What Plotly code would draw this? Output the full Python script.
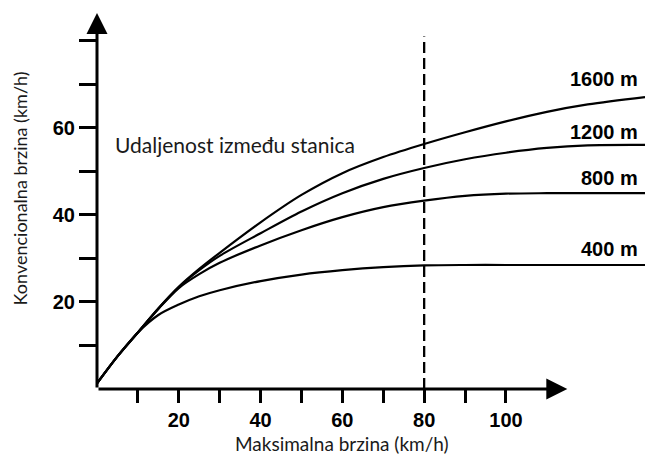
import plotly.graph_objects as go

x_vals = [0, 5, 10, 15, 20, 25, 30, 40, 50, 60, 70, 80, 90, 100, 110, 120, 134]
d400 = [1.3, 7.5, 13.0, 17.0, 19.4, 21.3, 22.7, 24.8, 26.3, 27.3, 28.0, 28.4, 28.5, 28.5, 28.5, 28.5, 28.5]
d800 = [1.3, 7.5, 13.0, 18.4, 23.2, 26.4, 29.0, 33.0, 36.5, 39.5, 41.8, 43.3, 44.4, 44.9, 45.0, 45.0, 45.0]
d1200 = [1.3, 7.5, 13.0, 18.5, 23.4, 27.3, 30.6, 35.8, 40.8, 45.0, 48.3, 50.8, 52.8, 54.3, 55.4, 56.0, 56.1]
d1600 = [1.3, 7.5, 13.0, 18.5, 23.5, 27.6, 31.3, 38.3, 44.6, 49.6, 53.3, 56.3, 59.0, 61.5, 63.7, 65.4, 67.1]

series_names = ["400 m", "800 m", "1200 m", "1600 m"]
series_vals = [d400, d800, d1200, d1600]
label_y = [32.1, 48.4, 59.1, 71.3]

x_tickvals = [10, 20, 30, 40, 50, 60, 70, 80, 90, 100]
x_ticktext = ["", "20", "", "40", "", "60", "", "80", "", "100"]
y_tickvals = [10, 20, 30, 40, 50, 60, 70, 80]
y_ticktext = ["", "20", "", "40", "", "60", "", ""]

marker_x = 80
x_axis_end = 115
y_axis_end = 86.4

fig = go.Figure()
for name, vals in zip(series_names, series_vals):
    fig.add_trace(go.Scatter(x=x_vals, y=vals, mode="lines", name=name,
                             line=dict(color="black", width=2.2, shape="spline", smoothing=0.9),
                             showlegend=False, hoverinfo="skip"))

# dashed vertical line at 80 km/h
fig.add_shape(type="line", x0=marker_x, x1=marker_x, y0=0, y1=81, xref="x", yref="y",
              line=dict(color="black", width=2.3, dash="11px,5px"))

# axes with arrows
fig.add_annotation(x=x_axis_end, y=0, ax=0, ay=0, xref="x", yref="y", axref="x", ayref="y",
                   showarrow=True, arrowhead=2, arrowsize=1.4, arrowwidth=3, arrowcolor="black", text="")
fig.add_annotation(x=0, y=y_axis_end, ax=0, ay=0, xref="x", yref="y", axref="x", ayref="y",
                   showarrow=True, arrowhead=2, arrowsize=1.4, arrowwidth=3, arrowcolor="black", text="")

for name, ly in zip(series_names, label_y):
    fig.add_annotation(x=132.8, y=ly, xref="x", yref="y", text="<b>" + name + "</b>", showarrow=False,
                       xanchor="right", yanchor="middle",
                       font=dict(family="Liberation Sans", size=20, color="black"))

fig.add_annotation(x=3.9, y=56.3, xref="x", yref="y", text="Udaljenost između stanica",
                   showarrow=False, xanchor="left", yanchor="middle",
                   font=dict(family="Lato", size=21, color="#1a1a1a"))
fig.add_annotation(x=59.9, y=-0.1425, xref="x", yref="paper", text="Maksimalna brzina (km/h)",
                   showarrow=False, xanchor="center", yanchor="middle",
                   font=dict(family="Lato", size=19, color="#1a1a1a"))
fig.add_annotation(x=-0.14, y=0.53, xref="paper", yref="paper", text="Konvencionalna brzina (km/h)",
                   showarrow=False, xanchor="center", yanchor="middle", textangle=-90,
                   font=dict(family="Lato", size=18, color="#1a1a1a"))

fig.update_xaxes(range=[0, 134], showline=False, zeroline=False, showgrid=False,
                 tickmode="array", tickvals=x_tickvals, ticktext=x_ticktext,
                 ticks="outside", ticklen=13, tickwidth=2.5, tickcolor="black",
                 tickfont=dict(family="Liberation Sans", size=20, color="black", weight="bold"))
fig.update_yaxes(range=[0, 87.1], showline=False, zeroline=False, showgrid=False,
                 tickmode="array", tickvals=y_tickvals, ticktext=y_ticktext,
                 ticks="outside", ticklen=17, tickwidth=2.5, tickcolor="black",
                 tickfont=dict(family="Liberation Sans", size=20, color="black", weight="bold"))

fig.update_layout(width=645, height=457, margin=dict(l=97, r=0, t=10, b=68),
                  paper_bgcolor="white", plot_bgcolor="white")

fig.write_html("out.html", config={"displayModeBar": False},
               post_script="document.body.style.margin='0';document.body.style.overflow='hidden';")
